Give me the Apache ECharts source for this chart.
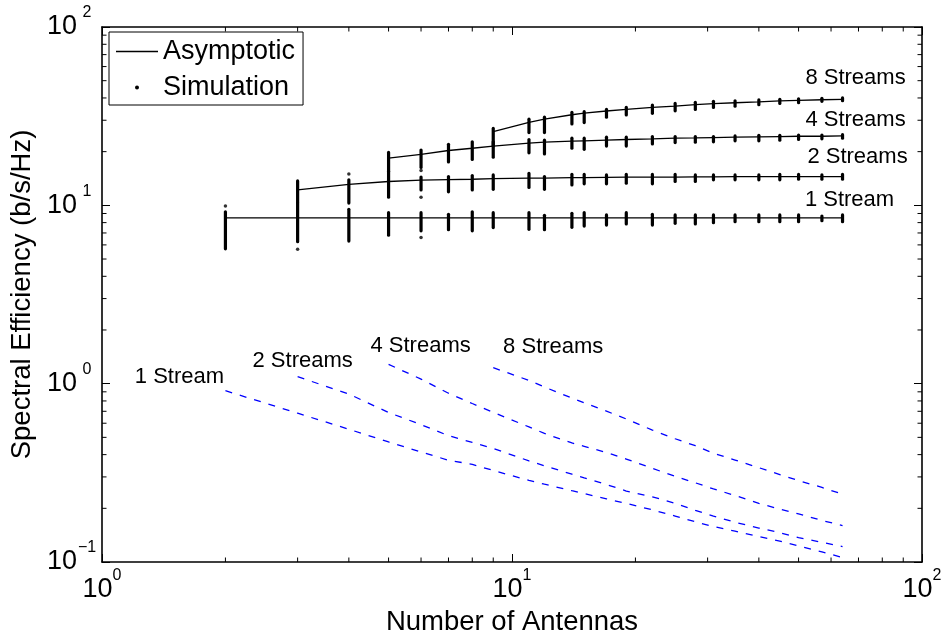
<!DOCTYPE html>
<html>
<head>
<meta charset="utf-8">
<script src="https://cdn.jsdelivr.net/npm/echarts@6/dist/echarts.min.js"></script>
<style>
html, body { margin: 0; padding: 0; background: #fff; }
#chart { width: 946px; height: 634px; }
</style>
</head>
<body>
<div id="chart"></div>
<script>
// Antenna counts used for every curve (1 stream starts at N=2, 2 at N=3, 4 at N=5, 8 at N=9)
const antennas = [2, 3, 4, 5, 6, 7, 8, 9, 11, 12, 14, 15, 17, 19, 22, 25, 28, 31, 35, 40, 45, 50, 57, 64];
const n1 = antennas;
const n2 = antennas.slice(1);
const n4 = antennas.slice(3);
const n8 = antennas.slice(7);

// Asymptotic spectral efficiency (b/s/Hz)
const asym1 = [8.5, 8.5, 8.5, 8.5, 8.5, 8.5, 8.5, 8.5, 8.5, 8.5, 8.5, 8.5, 8.5, 8.5, 8.5, 8.5, 8.5, 8.5, 8.5, 8.5, 8.5, 8.5, 8.5, 8.5];
const asym2 = [12.2, 13.1, 13.6, 13.85, 13.95, 14.0, 14.1, 14.2, 14.2, 14.3, 14.3, 14.35, 14.4, 14.4, 14.4, 14.45, 14.45, 14.5, 14.5, 14.5, 14.5, 14.5, 14.5];
const asym4 = [18.4, 19.3, 20.3, 20.9, 21.5, 22.3, 22.6, 22.9, 23.0, 23.2, 23.4, 23.6, 23.8, 23.9, 24.0, 24.1, 24.2, 24.3, 24.4, 24.4, 24.5];
const asym8 = [25.9, 29.2, 30.4, 32.2, 32.9, 33.8, 34.5, 35.4, 36.0, 36.7, 37.2, 37.6, 38.0, 38.5, 38.8, 39.1, 39.3];

// Simulated spread at each antenna count: lowest and highest realisation
const sim1Lo = [5.7, 6.25, 6.3, 6.8, 7.2, 7.3, 7.2, 7.5, 7.34, 7.3, 7.53, 7.65, 7.75, 7.86, 7.75, 7.93, 7.86, 7.99, 8.09, 8.09, 8.09, 8.09, 8.2, 8.09];
const sim1Hi = [9.2, 10.3, 9.5, 9.1, 9.1, 8.9, 9.2, 9.1, 9.09, 8.8, 9.02, 9.09, 8.83, 9.09, 8.91, 8.83, 8.83, 8.83, 8.83, 8.83, 8.83, 8.83, 8.71, 8.83];
const sim2Lo = [10.4, 10.3, 11.1, 12.2, 11.9, 12.2, 12.3, 12.6, 12.3, 13.0, 13.2, 13.2, 13.3, 13.2, 13.6, 13.6, 13.9, 13.9, 13.9, 13.9, 14.0, 14.0, 14.0];
const sim2Hi = [13.7, 13.9, 15.5, 14.4, 14.5, 14.7, 14.8, 15.1, 14.5, 14.9, 14.9, 14.8, 14.9, 14.9, 14.9, 14.8, 14.8, 14.8, 14.8, 14.9, 14.9, 14.8, 14.9];
const sim4Lo = [15.5, 16.3, 17.5, 18.1, 18.6, 19.7, 19.4, 20.9, 20.6, 21.5, 21.5, 22.1, 22.5, 22.6, 22.7, 23.0, 23.0, 23.2, 23.4, 23.6, 23.8];
const sim4Hi = [19.8, 20.4, 22.0, 22.7, 22.7, 23.4, 23.2, 23.8, 23.8, 24.1, 24.1, 24.3, 24.3, 24.3, 24.3, 24.5, 24.7, 24.7, 24.8, 24.8, 24.9];
const sim8Lo = [21.5, 25.6, 25.6, 28.6, 29.1, 31.2, 32.1, 32.8, 33.9, 34.5, 35.4, 36.0, 36.7, 37.3, 37.6, 38.3, 38.6];
const sim8Hi = [27.0, 30.4, 31.2, 33.2, 33.5, 34.5, 35.4, 36.5, 37.3, 37.8, 38.3, 38.6, 39.0, 39.3, 39.6, 39.8, 40.0];

// Isolated simulation realisations
const outlierN = [2, 3, 4, 6, 6, 6];
const outlierVal = [9.9, 5.67, 15.0, 15.7, 11.1, 6.6];

// Lower (dashed) curves
const low1 = [0.913, 0.683, 0.555, 0.471, 0.414, 0.372, 0.353, 0.326, 0.287, 0.273, 0.251, 0.242, 0.226, 0.213, 0.196, 0.181, 0.168, 0.158, 0.149, 0.139, 0.131, 0.123, 0.114, 0.106];
const low2 = [1.094, 0.875, 0.689, 0.589, 0.511, 0.468, 0.433, 0.369, 0.346, 0.311, 0.296, 0.272, 0.250, 0.232, 0.213, 0.195, 0.181, 0.167, 0.155, 0.146, 0.137, 0.129, 0.122];
const low4 = [1.284, 1.06, 0.884, 0.774, 0.690, 0.572, 0.526, 0.465, 0.445, 0.411, 0.378, 0.335, 0.302, 0.278, 0.257, 0.236, 0.213, 0.198, 0.186, 0.171, 0.160];
const low8 = [1.229, 1.043, 0.957, 0.830, 0.781, 0.701, 0.634, 0.549, 0.491, 0.449, 0.407, 0.373, 0.338, 0.309, 0.286, 0.262, 0.240];

const streamNames = ['1 Stream', '2 Streams', '4 Streams', '8 Streams'];

// Axis ranges and minor tick values
const xRange = [1, 100];
const yRange = [0.1, 100];
const xMinor = [2, 3, 4, 5, 6, 7, 8, 9, 20, 30, 40, 50, 60, 70, 80, 90];
const yMinor = [0.2, 0.3, 0.4, 0.5, 0.6, 0.7, 0.8, 0.9, 2, 3, 4, 5, 6, 7, 8, 9, 20, 30, 40, 50, 60, 70, 80, 90];

const FONT = '"Liberation Sans", Arial, Helvetica, sans-serif';

const pairs = (xs, ys) => xs.map((x, i) => [x, ys[i]]);
const spans = (xs, lo, hi) => xs.map((x, i) => [x, lo[i], hi[i]]);

function expLabel(v) {
  const e = Math.round(Math.log10(v));
  const s = e < 0 ? '\u2212' + (-e) : String(e);
  return '{b|10}{e|' + s + '}';
}

function asymLine(xs, ys) {
  return {
    type: 'line', name: 'Asymptotic', data: pairs(xs, ys),
    symbol: 'none', showSymbol: false, silent: true, z: 3,
    lineStyle: { color: '#000', width: 1.3 },
    itemStyle: { color: '#000' }
  };
}
function lowLine(id, xs, ys) {
  return {
    type: 'line', name: id, data: pairs(xs, ys),
    symbol: 'none', showSymbol: false, silent: true, z: 2,
    lineStyle: { color: '#0000ff', width: 1.3, type: [7, 8] },
    itemStyle: { color: '#0000ff' }
  };
}
function simSpread(xs, lo, hi) {
  return {
    type: 'custom', name: 'Simulation', data: spans(xs, lo, hi),
    encode: { x: 0, y: [1, 2] }, silent: true, z: 4,
    itemStyle: { color: '#000' },
    renderItem: function (params, api) {
      const a = api.coord([api.value(0), api.value(1)]);
      const b = api.coord([api.value(0), api.value(2)]);
      return {
        type: 'line',
        shape: { x1: a[0], y1: a[1], x2: b[0], y2: b[1] },
        style: { stroke: '#000', lineWidth: 3.2, lineCap: 'round' }
      };
    }
  };
}

// Stream annotations anchored to curve end points (upper set) and start points (lower set)
const annotations = [
  { value: [n8[n8.length - 1], asym8[asym8.length - 1]], text: streamNames[3], off: [13, -21] },
  { value: [n4[n4.length - 1], asym4[asym4.length - 1]], text: streamNames[2], off: [13, -16] },
  { value: [n2[n2.length - 1], asym2[asym2.length - 1]], text: streamNames[1], off: [15, -20] },
  { value: [n1[n1.length - 1], asym1[asym1.length - 1]], text: streamNames[0], off: [7, -18] },
  { value: [n1[0], low1[0]], text: streamNames[0], off: [-46, -14] },
  { value: [n2[0], low2[0]], text: streamNames[1], off: [5, -16] },
  { value: [n4[0], low4[0]], text: streamNames[2], off: [32, -18] },
  { value: [n8[0], low8[0]], text: streamNames[3], off: [60, -21] }
];

const axisLineStyle = { color: '#000', width: 1.6 };
const yRich = {
  b: { fontSize: 27, fontFamily: FONT, color: '#000', verticalAlign: 'middle' },
  e: { fontSize: 16, fontFamily: FONT, color: '#000', verticalAlign: 'middle', padding: [0, 0, 28, 0], width: 20, align: 'left' }
};
const xRich = {
  b: { fontSize: 27, fontFamily: FONT, color: '#000', verticalAlign: 'middle' },
  e: { fontSize: 16, fontFamily: FONT, color: '#000', verticalAlign: 'middle', padding: [0, 0, 28, 0] }
};

const chart = echarts.init(document.getElementById('chart'), null, { renderer: 'canvas' });

chart.setOption({
  animation: false,
  backgroundColor: '#fff',
  grid: { left: 102, right: 24, top: 27, bottom: 72, containLabel: false, outerBoundsMode: 'none' },
  xAxis: [
    {
      type: 'log', logBase: 10, min: xRange[0], max: xRange[1], position: 'bottom',
      name: 'Number of Antennas', nameLocation: 'middle', nameGap: 42,
      nameTextStyle: { fontSize: 27.5, fontFamily: FONT, color: '#000' },
      axisLine: { show: true, onZero: false, lineStyle: axisLineStyle },
      axisTick: { show: true, inside: true, length: 8, lineStyle: { color: '#000', width: 1 } },
      axisLabel: { show: true, margin: 6, formatter: expLabel, rich: xRich },
      splitLine: { show: false }, minorTick: { show: false }
    },
    {
      type: 'log', logBase: 10, min: xRange[0], max: xRange[1], position: 'top',
      axisLine: { show: true, onZero: false, lineStyle: axisLineStyle },
      axisTick: { show: true, inside: true, length: 8, lineStyle: { color: '#000', width: 1 } },
      axisLabel: { show: false }, splitLine: { show: false }
    }
  ],
  yAxis: [
    {
      type: 'log', logBase: 10, min: yRange[0], max: yRange[1], position: 'left',
      name: 'Spectral Efficiency (b/s/Hz)', nameLocation: 'middle', nameGap: 63,
      nameTextStyle: { fontSize: 27.5, fontFamily: FONT, color: '#000' },
      axisLine: { show: true, onZero: false, lineStyle: axisLineStyle },
      axisTick: { show: true, inside: true, length: 8, lineStyle: { color: '#000', width: 1 } },
      axisLabel: { show: true, margin: 5, formatter: expLabel, rich: yRich },
      splitLine: { show: false }
    },
    {
      type: 'log', logBase: 10, min: yRange[0], max: yRange[1], position: 'right',
      axisLine: { show: true, onZero: false, lineStyle: axisLineStyle },
      axisTick: { show: true, inside: true, length: 8, lineStyle: { color: '#000', width: 1 } },
      axisLabel: { show: false }, splitLine: { show: false }
    }
  ],
  legend: {
    orient: 'vertical', left: 109, top: 32,
    padding: [6, 8, 4, 7], itemGap: 9, itemWidth: 42, itemHeight: 4,
    borderColor: '#000', borderWidth: 1, backgroundColor: '#fff',
    selectedMode: false, z: 10,
    textStyle: { fontSize: 27, fontFamily: FONT, color: '#000' },
    data: [
      { name: 'Asymptotic', icon: 'path://M0 0H42V1.3H0Z', itemStyle: { color: '#000' } },
      { name: 'Simulation', icon: 'circle', itemStyle: { color: '#000' } }
    ]
  },
  series: [
    // Minor ticks along bottom/top and left/right edges of the box
    {
      type: 'custom', name: 'xMinorTicks', silent: true, z: 5,
      data: xMinor.map(v => [v, yRange[0], yRange[1]]),
      encode: { x: 0, y: [1, 2] },
      renderItem: function (params, api) {
        const b = api.coord([api.value(0), api.value(1)]);
        const t = api.coord([api.value(0), api.value(2)]);
        return { type: 'group', children: [
          { type: 'line', shape: { x1: b[0], y1: b[1], x2: b[0], y2: b[1] - 4.5 }, style: { stroke: '#000', lineWidth: 1 } },
          { type: 'line', shape: { x1: t[0], y1: t[1], x2: t[0], y2: t[1] + 4.5 }, style: { stroke: '#000', lineWidth: 1 } }
        ] };
      }
    },
    {
      type: 'custom', name: 'yMinorTicks', silent: true, z: 5,
      data: yMinor.map(v => [xRange[0], v, xRange[1]]),
      encode: { x: [0, 2], y: 1 },
      renderItem: function (params, api) {
        const l = api.coord([api.value(0), api.value(1)]);
        const r = api.coord([api.value(2), api.value(1)]);
        return { type: 'group', children: [
          { type: 'line', shape: { x1: l[0], y1: l[1], x2: l[0] + 4.5, y2: l[1] }, style: { stroke: '#000', lineWidth: 1 } },
          { type: 'line', shape: { x1: r[0], y1: r[1], x2: r[0] - 4.5, y2: r[1] }, style: { stroke: '#000', lineWidth: 1 } }
        ] };
      }
    },
    asymLine(n1, asym1),
    asymLine(n2, asym2),
    asymLine(n4, asym4),
    asymLine(n8, asym8),
    simSpread(n1, sim1Lo, sim1Hi),
    simSpread(n2, sim2Lo, sim2Hi),
    simSpread(n4, sim4Lo, sim4Hi),
    simSpread(n8, sim8Lo, sim8Hi),
    {
      type: 'scatter', name: 'Simulation', data: pairs(outlierN, outlierVal),
      symbol: 'circle', symbolSize: 3.5, silent: true, z: 4,
      itemStyle: { color: '#000' }
    },
    lowLine('low1', n1, low1),
    lowLine('low2', n2, low2),
    lowLine('low4', n4, low4),
    lowLine('low8', n8, low8),
    {
      type: 'scatter', name: 'streamLabels', silent: true, z: 6,
      symbol: 'circle', symbolSize: 0, itemStyle: { color: '#000' },
      data: annotations.map(a => ({
        value: a.value,
        label: {
          show: true, position: 'inside', offset: a.off,
          formatter: a.text, fontSize: 22, fontFamily: FONT, color: '#000',
          align: 'center', verticalAlign: 'middle', opacity: 1
        }
      }))
    }
  ]
});
</script>
</body>
</html>
